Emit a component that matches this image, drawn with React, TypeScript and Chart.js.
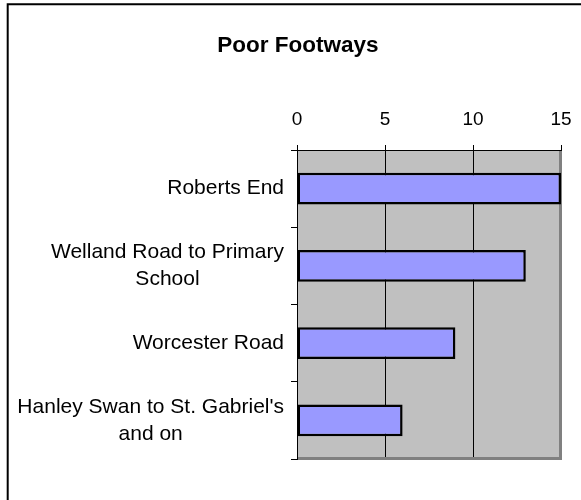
import { useEffect, useRef } from "react";
import { Chart, registerables } from "chart.js";

Chart.register(...registerables);

const TITLE = "Poor Footways";
const CATEGORIES: string[][] = [
  ["Roberts End"],
  ["Welland Road to Primary", "School"],
  ["Worcester Road"],
  ["Hanley Swan to St. Gabriel's", "and on"],
];
const VALUES: number[] = [15, 13, 9, 6];
const X_MIN = 0;
const X_MAX = 15;
const X_STEP = 5;

const FONT = '"Liberation Sans", Arial, Helvetica, sans-serif';

const decorPlugin = {
  id: "decor",
  beforeDraw(chart: any) {
    const { ctx, chartArea: a } = chart;
    ctx.save();
    ctx.fillStyle = "#FFFFFF";
    ctx.fillRect(0, 0, chart.width, chart.height);
    ctx.fillStyle = "#C0C0C0";
    ctx.fillRect(a.left, a.top, a.right - a.left, a.bottom - a.top);
    ctx.restore();
  },
  beforeDatasetsDraw(chart: any) {
    const { ctx, chartArea: a } = chart;
    ctx.save();
    ctx.strokeStyle = "#808080";
    ctx.lineWidth = 3;
    ctx.beginPath();
    ctx.moveTo(a.right - 0.5, a.top + 1);
    ctx.lineTo(a.right - 0.5, a.bottom - 0.5);
    ctx.lineTo(a.left + 1, a.bottom - 0.5);
    ctx.stroke();
    ctx.restore();
  },
  afterDraw(chart: any) {
    const { ctx, chartArea: a } = chart;
    const yScale = chart.scales.y;
    ctx.save();
    ctx.font = `21px ${FONT}`;
    ctx.fillStyle = "#000000";
    ctx.textBaseline = "middle";
    ctx.textAlign = "center";
    const right = a.left - 13;
    const lh = 26.7;
    CATEGORIES.forEach((lines, i) => {
      const cy = yScale.getPixelForTick(i);
      const w = Math.max(...lines.map((l) => ctx.measureText(l).width));
      const cx = right - w / 2;
      lines.forEach((line, j) => {
        ctx.fillText(line, cx, cy + (j - (lines.length - 1) / 2) * lh);
      });
    });
    // outer frame: only top and left edges fall inside the picture
    ctx.strokeStyle = "#000000";
    ctx.lineWidth = 2;
    ctx.beginPath();
    ctx.moveTo(7.7, chart.height + 5);
    ctx.lineTo(7.7, 4.3);
    ctx.lineTo(chart.width + 5, 4.3);
    ctx.stroke();
    ctx.restore();
  },
};

export default function App() {
  const ref = useRef<HTMLCanvasElement | null>(null);

  useEffect(() => {
    if (!ref.current) return;
    const chart = new Chart(ref.current, {
      type: "bar",
      data: {
        labels: CATEGORIES.map((l) => l.join(" ")),
        datasets: [
          {
            data: VALUES,
            backgroundColor: "#9999FF",
            borderColor: "#000000",
            borderWidth: 2.5,
            borderSkipped: false,
            barPercentage: 0.41,
            categoryPercentage: 1,
          },
        ],
      },
      options: {
        indexAxis: "y",
        animation: false,
        responsive: false,
        layout: { padding: { left: 35, right: 20, top: 0, bottom: 41 } },
        plugins: {
          legend: { display: false },
          tooltip: { enabled: false },
          title: {
            display: true,
            text: TITLE,
            color: "#000000",
            font: { family: FONT, size: 22.5, weight: "bold", lineHeight: 1.2 },
            padding: { top: 32, bottom: 10 },
          },
        },
        scales: {
          x: {
            position: "top",
            min: X_MIN,
            max: X_MAX,
            ticks: {
              stepSize: X_STEP,
              color: "#000000",
              font: { family: FONT, size: 19 },
              padding: 14,
            },
            grid: { color: "#000000", lineWidth: 1, tickLength: 5, drawTicks: true },
            border: { display: true, color: "#000000", width: 1 },
            afterFit: (s: any) => {
              s.height = 81;
              s.paddingLeft = 0;
              s.paddingRight = 0;
            },
          },
          y: {
            ticks: { display: false },
            grid: {
              offset: true,
              drawOnChartArea: false,
              drawTicks: true,
              tickLength: 6,
              color: "#000000",
            },
            border: { display: true, color: "#000000", width: 1 },
            afterFit: (s: any) => {
              s.width = 262;
              s.paddingTop = 0;
              s.paddingBottom = 0;
            },
          },
        },
      },
      plugins: [decorPlugin],
    } as any);
    return () => chart.destroy();
  }, []);

  return (
    <div style={{ position: "absolute", left: 0, top: 0, width: 581, height: 500, overflow: "hidden", background: "#FFFFFF" }}>
      <canvas ref={ref} width={581} height={500} style={{ display: "block" }} />
    </div>
  );
}
